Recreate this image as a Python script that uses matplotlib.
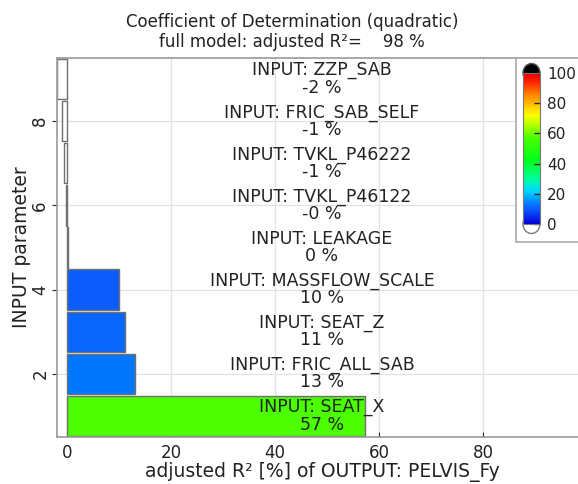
import numpy as np
import matplotlib
matplotlib.use("Agg")
import matplotlib.pyplot as plt
from matplotlib.colors import LinearSegmentedColormap, Normalize
from matplotlib.patches import Rectangle, Ellipse

# ---- data ----
params = ["SEAT_X", "FRIC_ALL_SAB", "SEAT_Z", "MASSFLOW_SCALE", "LEAKAGE",
          "TVKL_P46122", "TVKL_P46222", "FRIC_SAB_SELF", "ZZP_SAB"]
values = [57.3, 13.0, 11.0, 10.0, 0.2, -0.3, -0.6, -1.0, -2.0]
value_labels = ["57 %", "13 %", "11 %", "10 %", "0 %", "-0 %", "-1 %", "-1 %", "-2 %"]
positions = list(range(1, len(params) + 1))
full_model_r2 = 98
output_name = "PELVIS_Fy"
cbar_ticks = [0, 20, 40, 60, 80, 100]

# ---- colormap (jet-like, black over, white under) ----
nodes = [
    (0.00, (0.00, 0.00, 0.85)),
    (0.10, (0.05, 0.37, 1.00)),
    (0.13, (0.00, 0.47, 1.00)),
    (0.22, (0.00, 0.85, 1.00)),
    (0.30, (0.00, 1.00, 0.60)),
    (0.42, (0.00, 1.00, 0.10)),
    (0.57, (0.28, 1.00, 0.00)),
    (0.72, (1.00, 1.00, 0.00)),
    (0.85, (1.00, 0.55, 0.00)),
    (0.95, (1.00, 0.10, 0.00)),
    (1.00, (0.90, 0.00, 0.00)),
]
cmap = LinearSegmentedColormap.from_list("r2", nodes)
norm = Normalize(0, 100)

W, H = 578, 484
fig = plt.figure(figsize=(W / 100, H / 100), dpi=100)
plt.rcParams["font.family"] = "DejaVu Sans"
TXT = "#222222"

ax_l, ax_r, ax_t, ax_b = 57, 587, 58, 437
ax = fig.add_axes([ax_l / W, 1 - ax_b / H, (ax_r - ax_l) / W, (ax_b - ax_t) / H])

colors = [cmap(norm(v)) if v >= 0 else (1, 1, 1, 1) for v in values]
ax.barh(positions, values, height=0.96, color=colors, edgecolor="#707070",
        linewidth=1.0, zorder=2)

xmin, xmax = -2, 100
ax.set_xlim(xmin, xmax)
ax.set_ylim(0.5, 9.5)
xc = (xmin + xmax) / 2
for p, name, vl in zip(positions, params, value_labels):
    ax.text(xc, p, f"INPUT: {name}\n{vl}", ha="center", va="center",
            fontsize=12.5, color=TXT, zorder=4, linespacing=0.95)

ax.set_xticks([0, 20, 40, 60, 80])
ax.set_yticks([2, 4, 6, 8])
ax.tick_params(axis="y", labelrotation=90, labelsize=12, colors=TXT, pad=2)
ax.tick_params(axis="x", labelsize=12, colors=TXT, direction="in", pad=5)
for lbl in ax.get_yticklabels():
    lbl.set_va("center")
ax.grid(True, color="#e2e2e2", linewidth=0.9, zorder=0)
ax.set_axisbelow(True)
for s in ax.spines.values():
    s.set_color("#999999")
    s.set_linewidth(1.2)

ax.set_xlabel(f"adjusted R² [%] of OUTPUT: {output_name}", fontsize=13.5,
              color=TXT, labelpad=0)
ax.set_ylabel("INPUT parameter", fontsize=13.5, color=TXT)
ax.yaxis.set_label_coords((31 - ax_l) / (ax_r - ax_l), 0.5)

fig.text(292 / W, 1 - 22 / H, "Coefficient of Determination (quadratic)",
         ha="center", va="center", fontsize=12, color=TXT)
fig.text(292 / W, 1 - 42 / H, f"full model: adjusted R²=    {full_model_r2} %",
         ha="center", va="center", fontsize=12, color=TXT)

# colorbar box
bx_l = (516 - ax_l) / (ax_r - ax_l)
bx_b = (ax_b - 242) / (ax_b - ax_t)
ax.add_patch(Rectangle((bx_l, bx_b), 1.2, 1.0 - bx_b, transform=ax.transAxes,
                       facecolor="white", edgecolor="#aaaaaa", linewidth=1.2,
                       zorder=5, clip_on=False))

cb_l, cb_r, cb_t, cb_b = 523, 540, 73, 224
cax = fig.add_axes([cb_l / W, 1 - cb_b / H, (cb_r - cb_l) / W, (cb_b - cb_t) / H])
cax.set_zorder(6)
sm = matplotlib.cm.ScalarMappable(norm=norm, cmap=cmap)
cb = fig.colorbar(sm, cax=cax, ticks=cbar_ticks)
cb.outline.set_edgecolor("#777777")
cb.ax.tick_params(direction="in", length=4, width=1, labelsize=11, colors=TXT, pad=5)
for t in cb.ax.get_yticklines():
    t.set_color("#333333")

# rounded end caps (over = black, under = white)
cw, ch = (cb_r - cb_l), 19
fig.patches.append(Ellipse(((cb_l + cb_r) / 2 / W, 1 - cb_t / H), cw / W, ch / H,
                           transform=fig.transFigure, facecolor="black",
                           edgecolor="#555555", linewidth=1, zorder=5.5))
fig.patches.append(Ellipse(((cb_l + cb_r) / 2 / W, 1 - cb_b / H), cw / W, ch / H,
                           transform=fig.transFigure, facecolor="white",
                           edgecolor="#777777", linewidth=1, zorder=5.5))

fig.savefig("out.png", dpi=100)
